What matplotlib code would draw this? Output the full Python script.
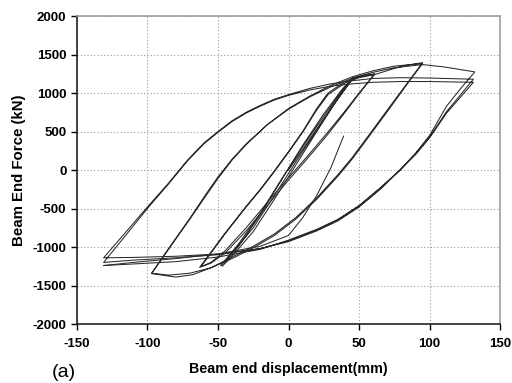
import matplotlib
matplotlib.use("Agg")
from matplotlib import pyplot as plt

# --- data (displacement mm, force kN) ---
# cycles of +-45 mm
c45_x = [0, 15, 30, 40, 46, 35, 20, 5, -10, -25, -40, -47, -35, -20, -5, 10, 25, 38, 46,
         34, 20, 5, -10, -25, -40, -48, -35, -20, -5, 10, 25, 38, 46]
c45_y = [0, 400, 800, 1050, 1200, 930, 500, 60, -380, -800, -1120, -1250, -980, -580, -130, 320, 730, 1050, 1210,
         900, 520, 100, -330, -750, -1080, -1240, -950, -560, -120, 300, 700, 1030, 1200]

# cycles of +-60 mm
c60_x = [46, 52, 61, 50, 38, 25, 12, 0, -15, -30, -45, -55, -63,
         -45, -30, -20, -10, 0, 10, 20, 28, 40, 50, 61,
         50, 38, 25, 12, 0, -15, -30, -45, -55, -62,
         -45, -30, -20, -10, 0, 10, 20, 28, 40, 50, 61]
c60_y = [1200, 1230, 1250, 1000, 720, 430, 150, -100, -420, -750, -1050, -1200, -1265,
         -820, -470, -250, -10, 240, 500, 800, 1000, 1150, 1210, 1245,
         990, 700, 400, 120, -130, -460, -790, -1080, -1210, -1255,
         -830, -480, -260, -20, 230, 490, 780, 980, 1130, 1200, 1240]

# cycles of +-95 mm
c95_x = [61, 75, 85, 95,
         85, 72, 58, 45, 35, 20, 5, -10, -25, -40, -55, -68, -80, -97,
         -85, -70, -58, -50, -40, -30, -15, 0, 15, 30, 45, 60, 75, 95,
         85, 72, 58, 45, 35, 20, 5, -10, -25, -40, -55, -70, -85, -97,
         -85, -70, -58, -50, -40, -30, -15, 0, 15, 30, 45, 60, 75, 95]
c95_y = [1240, 1320, 1365, 1395,
         1150, 830, 480, 160, -60, -360, -620, -830, -990, -1130, -1270, -1360, -1390, -1345,
         -1030, -640, -320, -110, 130, 330, 590, 800, 960, 1100, 1210, 1290, 1350, 1385,
         1140, 810, 460, 140, -80, -380, -640, -850, -1010, -1150, -1270, -1340, -1365, -1340,
         -1020, -630, -300, -90, 140, 340, 590, 790, 950, 1080, 1190, 1270, 1330, 1370]

# cycles of +-130 mm
c130_x = [95, 110, 132,
          122, 112, 100, 90, 79, 65, 50, 35, 20, 0, -20, -50, -80, -110, -131,
          -115, -100, -85, -72, -60, -50, -40, -30, -20, -10, 0, 15, 30, 45, 60, 80, 100, 131,
          122, 112, 100, 90, 79, 65, 50, 35, 20, 0, -20, -50, -80, -110, -131,
          -115, -100, -85, -72, -60, -50, -40, -30, -20, -10, 0, 15, 30, 45, 60, 80, 100, 131,
          122, 112, 100, 90, 79, 65, 50, 35, 20, 0, -20, -50, -80, -110, -131]
c130_y = [1370, 1340, 1275,
          1060, 830, 450, 220, 0, -250, -480, -660, -790, -930, -1020, -1090, -1120, -1135, -1140,
          -800, -480, -170, 120, 350, 500, 640, 750, 840, 920, 980, 1060, 1120, 1160, 1190, 1200, 1195, 1180,
          980, 760, 430, 210, 0, -240, -470, -650, -780, -920, -1020, -1100, -1140, -1170, -1200,
          -840, -500, -180, 110, 340, 490, 630, 740, 830, 910, 970, 1040, 1090, 1120, 1140, 1150, 1150, 1140,
          950, 740, 420, 200, 0, -230, -460, -640, -770, -910, -1030, -1130, -1190, -1220, -1240]

# last partial reload
end_x = [-131, -110, -80, -50, -20, 0, 10, 20, 30, 39]
end_y = [-1240, -1200, -1150, -1090, -990, -850, -620, -330, 30, 440]

x_ticks = [-150, -100, -50, 0, 50, 100, 150]
y_ticks = [-2000, -1500, -1000, -500, 0, 500, 1000, 1500, 2000]

plt.rcParams['font.family'] = ['Liberation Sans', 'DejaVu Sans']
plt.rcParams['axes.unicode_minus'] = False

fig = plt.figure(figsize=(5.12, 3.83), dpi=100)
ax = fig.add_axes([0.150, 0.154, 0.827, 0.804])

for xs, ys in [(c45_x, c45_y), (c60_x, c60_y), (c95_x, c95_y), (c130_x, c130_y), (end_x, end_y)]:
    ax.plot(xs, ys, color='#2a2a2a', lw=0.75)

ax.set_xlim(-150, 150)
ax.set_ylim(-2000, 2000)
ax.set_xticks(x_ticks)
ax.set_yticks(y_ticks)
ax.grid(True, color='#9a9a9a', lw=0.8, linestyle=(0, (1, 2)))
ax.tick_params(direction='out', length=4, width=1, labelsize=9.5)
ax.tick_params(axis='x', pad=6)
for lab in ax.get_xticklabels() + ax.get_yticklabels():
    lab.set_fontweight('bold')

ax.spines['left'].set_color('#222222')
ax.spines['bottom'].set_color('#222222')
ax.spines['right'].set_color('#a0a0a0')
ax.spines['top'].set_color('#a0a0a0')
for s in ax.spines.values():
    s.set_linewidth(1.2)

ax.set_xlabel('Beam end displacement(mm)', fontsize=10.3, fontweight='bold', labelpad=9)
ax.set_ylabel('Beam End Force (kN)', fontsize=10.8, fontweight='bold', labelpad=5)

fig.text(0.125, 0.028, '(a)', fontsize=14, ha='center', va='center')

fig.savefig('out.png', dpi=100)
plt.close()
